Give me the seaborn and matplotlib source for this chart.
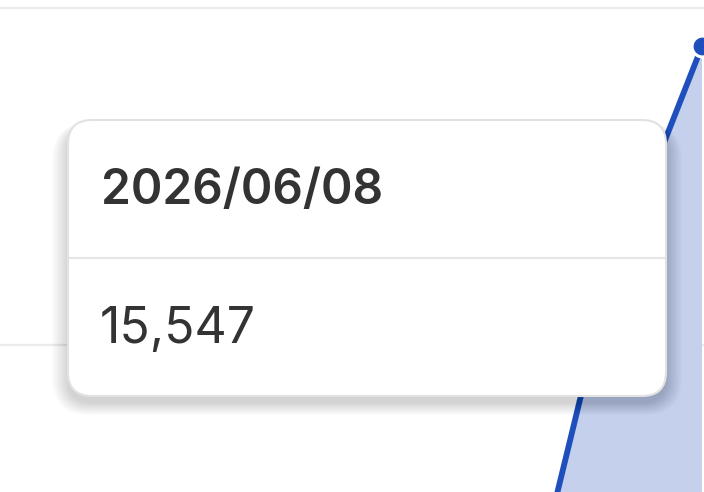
import matplotlib
matplotlib.use("Agg")
import matplotlib.pyplot as plt
import matplotlib.dates as mdates
from matplotlib.patches import FancyBboxPatch
from matplotlib.transforms import IdentityTransform
import seaborn as sns
import pandas as pd
import numpy as np

dates = ["2026-06-06", "2026-06-07", "2026-06-08"]
values = [8142, 12712, 15547]
grid_values = [12000, 16000]
tooltip_date = "2026/06/08"
tooltip_value = "15,547"

LINE = "#1f4fbd"
FILL = "#c5d0ec"

sns.set_theme(style="white")
plt.rcParams["font.family"] = ["Inter", "DejaVu Sans"]

df = pd.DataFrame({"date": pd.to_datetime(dates), "value": values})

W, H = 704, 492
fig = plt.figure(figsize=(W / 100, H / 100), dpi=100)
ax = fig.add_axes([0, 0, 1, 1])

ax.fill_between(df["date"], df["value"], 0, color=FILL, lw=0, zorder=1)
sns.lineplot(data=df, x="date", y="value", ax=ax, color=LINE, zorder=3)
for ln in ax.lines:
    ln.set_linewidth(4.2)
    ln.set_solid_capstyle("round")
last = df.iloc[-1]
ax.plot([last["date"]], [last["value"]], marker="o", markersize=15,
        markerfacecolor=LINE, markeredgecolor="white", markeredgewidth=2.2,
        linestyle="none", zorder=4, clip_on=False)

for g in grid_values:
    ax.axhline(g, color="#ececec", lw=1.6, zorder=0.5)

# scales: 94 px per day, 84.25 px per 1000
d2 = mdates.date2num(df["date"].iloc[-1])
px_per_day = 94.0
ax.set_xlim(d2 - 702 / px_per_day, d2 + 2 / px_per_day)
ppk = 84.25
ax.set_ylim(16000 - 484 / ppk * 1000, 16000 + 8 / ppk * 1000)

ax.set_axis_off()

# tooltip in display pixels
T = IdentityTransform()
x0, x1, ytop, ybot = 68, 666, 120, 396
r = 24
bw, bh = x1 - x0, ybot - ytop
# soft shadow
n = 22
for i in range(n):
    e = i * 1.3
    sh = FancyBboxPatch((x0 + r - e * 0.6, H - ybot + r - 7 - e * 0.45),
                        bw - 2 * r + e * 1.2, bh - 2 * r + e * 0.6,
                        boxstyle=f"round,pad={r},rounding_size={r + e * 0.5}",
                        transform=T, facecolor="black", edgecolor="none",
                        alpha=0.006, zorder=5)
    fig.patches.append(sh)
box = FancyBboxPatch((x0 + r, H - ybot + r), bw - 2 * r, bh - 2 * r,
                     boxstyle=f"round,pad={r},rounding_size={r}",
                     transform=T, facecolor="white", edgecolor="#e2e2e2",
                     linewidth=1.5, zorder=6)
fig.patches.append(box)
fig.lines.append(plt.Line2D([x0 + 1, x1 - 1], [H - 258, H - 258], transform=T,
                            color="#e6e6e6", lw=1.5, zorder=7))

fig.text(101 / W, 1 - 191 / H, tooltip_date, fontsize=34.5, fontweight="semibold",
         color="#333333", ha="left", va="center", zorder=8)
fig.text(100 / W, 1 - 330 / H, tooltip_value, fontsize=36, fontweight="normal",
         color="#333333", ha="left", va="center", zorder=8)

fig.savefig("out.png", dpi=100)
